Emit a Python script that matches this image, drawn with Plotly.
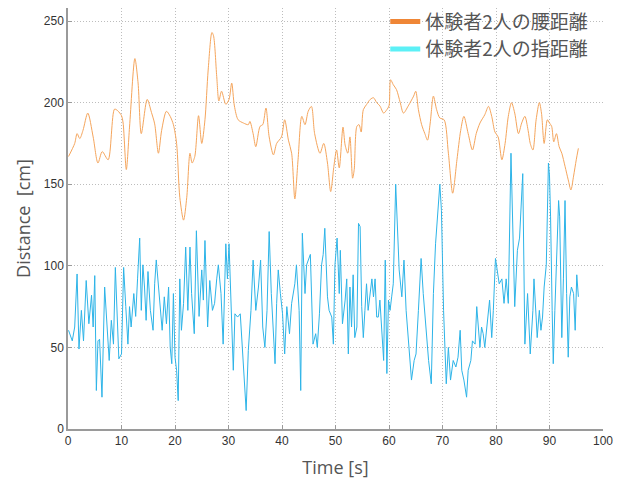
import plotly.graph_objects as go

# ---- data ----
time_waist = [0.1, 1.25, 1.7, 2.2, 2.8, 3.7, 4.7, 5.6, 6.4, 7.5, 8.7, 9.3, 10.0, 10.3, 10.9, 11.5, 12.5, 13.1, 13.7, 14.8, 15.6, 16.2,
              16.9, 17.5, 18.4, 19.1, 19.7, 20.3, 20.9, 21.6, 22.2, 22.8, 23.2, 23.7, 24.4, 25.0, 25.6, 26.2, 26.9, 27.2, 27.8, 28.2, 28.7, 29.5, 30.1, 30.6, 31.1, 31.8, 32.8, 33.7,
              34.0, 34.6, 35.1, 35.9, 36.4, 37.0, 37.6, 38.4, 39.0, 39.9, 40.5, 41.2, 41.8, 42.4, 43.0, 43.7, 44.3, 44.9, 45.5, 46.1, 47.1, 47.8, 48.5, 49.1, 49.7, 50.2, 50.7, 51.4,
              51.8, 52.3, 52.7, 53.2, 53.5, 54.0, 54.4, 54.8, 55.2, 55.8, 56.5, 57.1, 57.7, 58.3, 59.0, 59.6, 60.0, 60.3, 60.8, 61.4, 62.1, 62.7, 63.6, 64.6, 65.0, 65.5, 66.1, 66.7, 67.2, 67.7, 68.3, 68.9,
              69.5, 70.3, 71.1, 71.9, 72.7, 73.4, 74.0, 74.8, 75.6, 76.3, 77.0, 77.9, 78.6, 79.2, 79.8, 80.4, 81.1, 81.7, 82.3, 82.9, 83.5, 84.2, 84.8, 85.4, 86.0,
              86.4, 86.9, 87.5, 88.1, 88.5, 89.0, 89.6, 90.0, 90.4, 90.8, 91.3, 91.8, 92.3, 92.9, 93.5, 94.0, 94.5, 95.0, 95.4]
waist_distance = [167, 175, 181, 178, 183, 193.6, 179, 163, 170, 165, 196, 195, 192, 187.5, 159, 185, 227, 212, 181, 202, 194, 187,
                  169, 183, 194.7, 191.6, 186.5, 175, 142, 128, 142, 169, 163, 167, 192, 175, 189.5, 220, 243, 241, 216, 201, 207, 199, 202, 212, 198, 189.5, 187.5, 186.5,
                  188.5, 181, 173, 185.5, 186.5, 196.7, 179, 168, 175, 179, 189.5, 177, 169, 141, 165, 191.6, 186.5, 194.7, 197.7, 181, 169, 175, 163, 145.5, 161, 171, 160, 185,
                  174, 169, 179, 153.7, 159, 185.5, 186.5, 182, 195.7, 198.8, 202, 203, 200, 198, 193.6, 195.7, 198, 214, 211, 208, 200, 193.6, 198, 204, 207, 195.7, 186.5, 181, 177, 187.5, 204, 195.7,
                  190.6, 189.5, 169, 144.5, 165, 183, 191.6, 181, 171, 181, 187.5, 192.6, 197.7, 191.6, 182, 179, 165, 175, 191.6, 200, 193.6, 181, 187.5, 191.6, 183,
                  175, 171, 189.5, 200, 193.6, 175, 189.5, 187.5, 185.5, 176, 181, 173, 169, 161, 152.7, 146.5, 155, 165, 172]

time_finger = [0.1, 0.8, 1.25, 1.7, 2.05, 2.5, 2.9, 3.4, 3.9, 4.4, 4.7, 5.0, 5.3, 5.6, 5.9, 6.35, 6.85, 7.3, 7.7, 8.1, 8.5, 8.85, 9.15, 9.5, 10.0, 10.4, 10.8, 11.2, 11.5, 11.8, 12.3, 12.65, 13.0, 13.4, 13.7, 14.0, 14.3, 14.6, 14.95, 15.4, 15.9, 16.2, 16.5,
               17.2, 17.6, 18.0, 18.4, 18.8, 19.1, 19.4, 19.7, 20.0, 20.3, 20.6, 20.9, 21.2, 21.6, 22.0, 22.4, 22.8, 23.1, 23.6, 24.0, 24.5, 25.0, 25.3, 25.6, 26.1, 26.5, 27.0, 27.4, 27.8, 28.1, 28.6, 29.0, 29.5, 29.8, 30.1, 30.5, 30.9, 31.2, 31.7, 32.2, 32.6, 33.0, 33.3, 33.7, 34.2, 34.6,
               35.1, 35.6, 36.0, 36.4, 36.8, 37.2, 37.6, 38.0, 38.4, 38.7, 39.0, 39.3, 39.7, 40.1, 40.5, 40.9, 41.4, 41.8, 42.4, 42.7, 43.2, 43.5, 43.8, 44.3, 44.6, 45.1, 45.3, 45.8, 46.3, 46.6, 47.0, 47.4, 47.7, 48.0, 48.5, 48.8, 49.3, 49.6, 49.9, 50.3, 50.7, 50.9, 51.3,
               51.8, 52.1, 52.4, 52.7, 53.0, 53.3, 53.6, 54.0, 54.3, 54.6, 54.9, 55.2, 55.5, 55.8, 56.1, 56.5, 56.8, 57.1, 57.4, 57.7, 58.0, 58.3, 58.6, 59.0, 59.3, 59.6, 59.9, 60.2, 60.5, 60.8, 61.25, 61.6, 61.9, 62.4, 62.8, 63.2, 63.6, 64.2, 64.7, 65.05, 65.5, 66.0, 66.4, 66.9, 67.4, 67.9, 68.3, 68.7, 69.1, 69.5,
               69.8, 70.2, 70.7, 71.1, 71.5, 72.0, 72.5, 72.9, 73.3, 73.6, 74.0, 74.5, 74.8, 75.3, 75.6, 76.1, 76.4, 76.7, 77.0, 77.3, 77.6, 77.9, 78.3, 78.8, 79.2, 79.5, 79.9, 80.2, 80.6, 81.1, 81.5, 81.9, 82.3, 82.8, 83.2, 83.5, 84.0, 84.4, 85.0, 85.4, 85.9,
               86.4, 86.9, 87.1, 87.5, 87.7, 88.1, 88.4, 88.7, 89.0, 89.4, 89.6, 89.8, 90.0, 90.2, 90.5, 90.7, 91.0, 91.4, 91.7, 91.9, 92.3, 92.6, 92.9, 93.2, 93.5, 93.8, 94.1, 94.5, 94.8, 95.1, 95.4]
finger_distance = [60.5, 54, 62.5, 95, 49, 72.7, 54, 91, 64.5, 82, 62.5, 94, 23.6, 54, 55, 19.5, 87, 64.5, 42, 66.6, 52, 99, 72.7, 43, 46, 99, 75, 52, 75, 62.5, 83, 69, 92, 117, 72.7, 100.6, 87, 66.6, 96.5, 72.7, 60.5, 89, 103.6,
                   72.7, 60.5, 81, 64.5, 87, 50, 40, 83, 44, 36, 17.4, 92, 60.5, 77, 111.5, 72.7, 111.5, 83, 58.4, 121.5, 69, 97.5, 79, 115.5, 62.5, 91, 72.7, 77, 92, 100.6, 83, 52, 113.5, 92, 113.5, 72.7, 36, 70.6, 68.6, 70.6, 48, 32, 11.3, 48, 72.7, 103.5,
                   72.7, 87, 103.5, 62.5, 50, 72.7, 121, 83, 60.5, 40, 77, 97.5, 83, 70.6, 46, 75, 58.4, 77, 89, 100.6, 72.7, 23.6, 120, 83, 100.6, 104.5, 107, 52, 58.4, 50, 70.6, 100.6, 107, 123, 81, 72.7, 68.6, 52, 100.6, 117, 83, 109.5, 64.5,
                   79, 92, 46, 87, 62.5, 94.5, 56, 62.5, 126, 124, 75, 56, 72.7, 89, 72.7, 83, 92, 81, 92, 68.6, 68.6, 79, 60.5, 42, 103.5, 34, 79, 72.7, 81, 89, 150, 126, 97.5, 81, 103.5, 72.7, 56, 30, 42, 46, 72.7, 104.5, 83, 60.5, 42, 27.7, 83, 113.5, 130, 150,
                   134, 72.7, 27.7, 50, 30, 42, 38, 44, 60.5, 36, 30, 19.5, 36, 42, 54, 52, 75, 64.5, 50, 62.5, 58.4, 50, 62.5, 79, 56, 72.7, 104.5, 97.5, 89, 92, 77, 92, 77, 169, 121.5, 75, 109.5, 117, 156.5, 52, 83,
                   46, 72.7, 92, 68.6, 56, 72.7, 60.5, 68.6, 87, 100.6, 126, 163, 155, 130, 72.7, 40, 72.7, 107, 140, 130, 56, 92, 140, 83, 44, 81, 87, 83, 60.5, 94.5, 81]

series_names = ["体験者2人の腰距離", "体験者2人の指距離"]
x_ticks = [0, 10, 20, 30, 40, 50, 60, 70, 80, 90, 100]
y_ticks = [0, 50, 100, 150, 200, 250]

fig = go.Figure()
fig.add_trace(go.Scatter(x=time_waist, y=waist_distance, mode="lines",
                         line=dict(color="#F5A55C", width=1, shape="spline", smoothing=0.8),
                         showlegend=False))
fig.add_trace(go.Scatter(x=time_finger, y=finger_distance, mode="lines",
                         line=dict(color="#2DB4E8", width=1), showlegend=False))
# legend swatches (thicker, brighter)
fig.add_trace(go.Scatter(x=[None], y=[None], mode="lines", name=series_names[0],
                         line=dict(color="#EF8636", width=5)))
fig.add_trace(go.Scatter(x=[None], y=[None], mode="lines", name=series_names[1],
                         line=dict(color="#5CF0F6", width=5)))

axis_common = dict(
    showgrid=True, gridcolor="#bdbdbd", griddash="1px,2px", gridwidth=1,
    showline=True, linecolor="#9a9a9a", linewidth=1.5,
    ticks="inside", ticklen=4, tickcolor="#9a9a9a",
    tickfont=dict(family="Liberation Sans, Arial", size=12, color="#333"),
    zeroline=False, automargin=False,
)

# the page body adds an 8px offset, so the figure is sized 8px smaller
fig.update_layout(
    width=622, height=471,
    margin=dict(l=60, r=27, t=0, b=50, autoexpand=False),
    paper_bgcolor="white", plot_bgcolor="white",
    xaxis=dict(range=[0, 100], tickvals=x_ticks, **axis_common,
               title=dict(text="Time [s]", standoff=14,
                          font=dict(family="Open Sans", size=18, color="#555"))),
    yaxis=dict(range=[0, 258], tickvals=y_ticks, **axis_common,
               title=dict(text="Distance\u00a0 [cm]", standoff=9,
                          font=dict(family="Open Sans", size=18, color="#555"))),
    legend=dict(x=0.593, y=1.013, xanchor="left", yanchor="top",
                bgcolor="rgba(0,0,0,0)", borderwidth=0,
                font=dict(family="Noto Sans CJK JP", size=19, color="#555")),
)

fig.write_html("out.html")
